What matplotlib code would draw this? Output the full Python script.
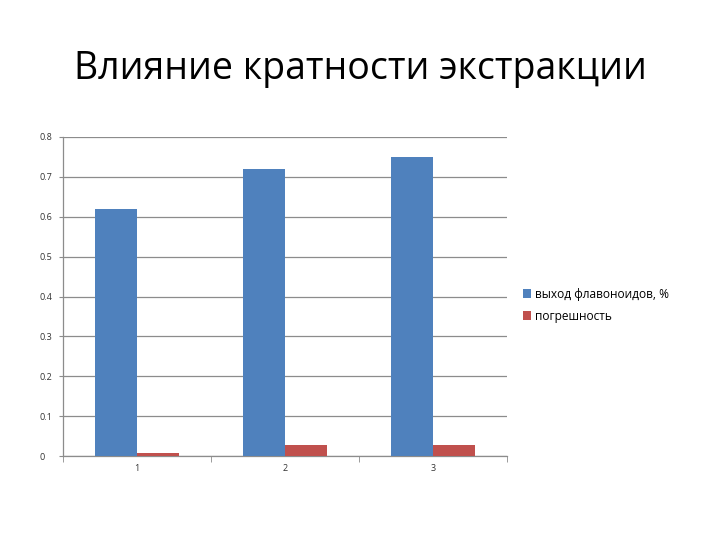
import matplotlib
matplotlib.use("Agg")
import matplotlib.pyplot as plt
import numpy as np
from matplotlib.patches import Patch

plt.rcParams['font.family'] = ['Open Sans', 'DejaVu Sans']

categories = ['1', '2', '3']
series_names = ['выход флавоноидов, %', 'погрешность']
yield_vals = [0.62, 0.72, 0.75]
error_vals = [0.008, 0.028, 0.028]
y_ticks = [0, 0.1, 0.2, 0.3, 0.4, 0.5, 0.6, 0.7, 0.8]
y_tick_labels = ['0', '0.1', '0.2', '0.3', '0.4', '0.5', '0.6', '0.7', '0.8']
title = 'Влияние кратности экстракции'

blue = '#4F81BD'
red = '#C0504D'

fig = plt.figure(figsize=(7.2, 5.4), dpi=100)
ax = fig.add_axes([63/720, 1-456/540, (507-63)/720, (456-137)/540])

x = np.arange(len(categories))
w = 1/3.5
ax.bar(x - w/2, yield_vals, width=w, color=blue, zorder=3)
ax.bar(x + w/2, error_vals, width=w, color=red, zorder=3)

ax.set_xlim(-0.5, 2.5)
ax.set_ylim(0, 0.8)
ax.set_yticks(y_ticks)
ax.set_yticklabels(y_tick_labels)
ax.yaxis.grid(True, color='#8c8c8c', linewidth=0.9, zorder=0)
ax.set_axisbelow(True)

ax.set_xticks(x)
ax.set_xticklabels(categories)
ax.set_xticks([-0.5, 0.5, 1.5, 2.5], minor=True)
ax.tick_params(axis='x', which='major', length=0, labelsize=6.5, pad=6, colors='#333333')
ax.tick_params(axis='x', which='minor', length=4, direction='out', color='#8c8c8c')
ax.tick_params(axis='y', which='major', length=3, direction='out', color='#8c8c8c', labelsize=6.5, pad=14, labelcolor='#333333')
for lbl in ax.get_yticklabels():
    lbl.set_horizontalalignment('left')

for s in ['top', 'right']:
    ax.spines[s].set_visible(False)
for s in ['left', 'bottom']:
    ax.spines[s].set_color('#8c8c8c')
    ax.spines[s].set_linewidth(0.9)

handles = [Patch(facecolor=blue), Patch(facecolor=red)]
fig.legend(handles, series_names, loc='upper left', bbox_to_anchor=(512/720, 1-277/540),
           frameon=False, fontsize=8.6, handlelength=0.7, handleheight=0.7,
           handletextpad=0.35, labelspacing=0.75)

fig.text(0.5, 1-69/540, title, ha='center', va='center', fontsize=27, color='#000000')

fig.savefig('out.png', dpi=100)
